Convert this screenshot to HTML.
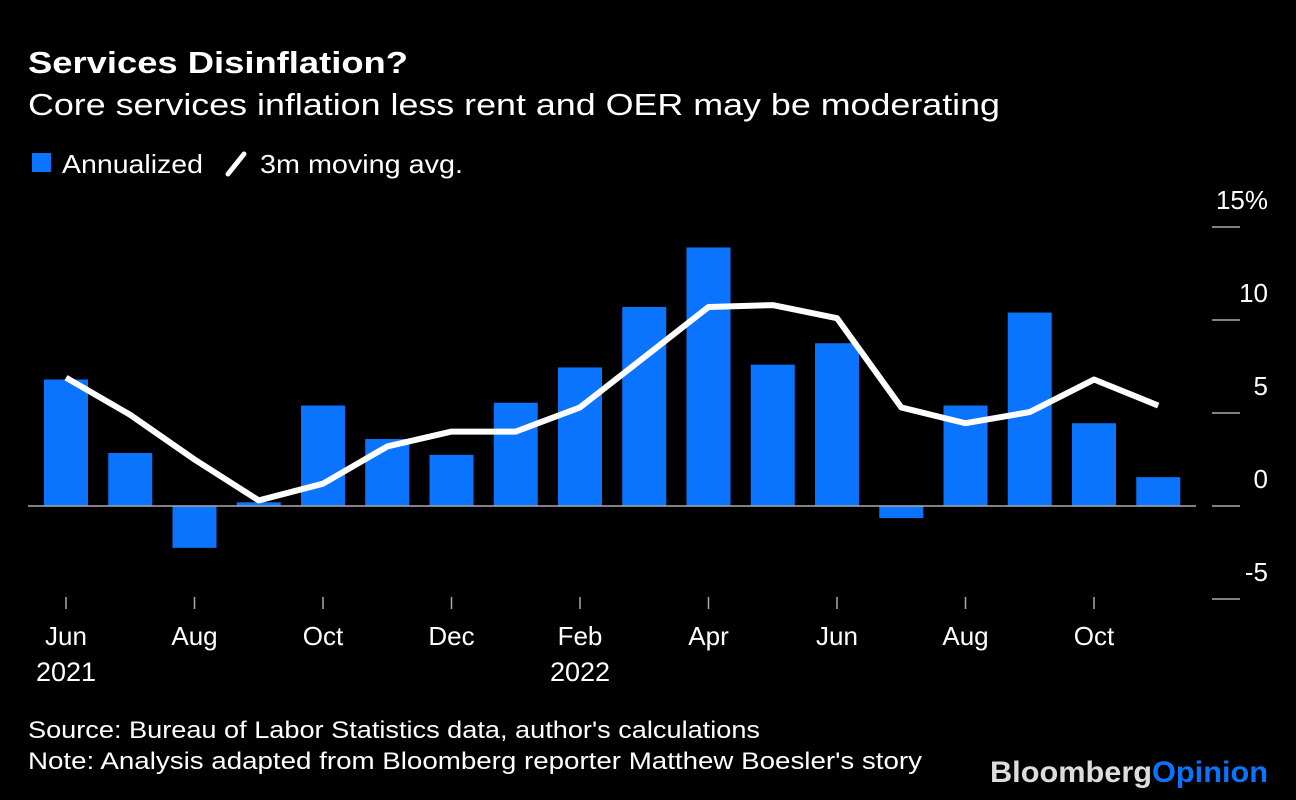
<!DOCTYPE html>
<html><head><meta charset="utf-8"><style>
body{margin:0;background:#000;width:1296px;height:800px;overflow:hidden;font-family:"Liberation Sans",sans-serif;color:#fff}
</style></head><body>
<svg width="1296" height="800" style="position:absolute;left:0;top:0">
<text x="28" y="73" font-size="31" font-weight="bold" fill="#fff" textLength="380" lengthAdjust="spacingAndGlyphs">Services Disinflation?</text>
<text x="28" y="115" font-size="31" fill="#fff" textLength="972" lengthAdjust="spacingAndGlyphs">Core services inflation less rent and OER may be moderating</text>
<g>
<rect x="32" y="153" width="19" height="19" fill="#0a74ff"/>
<text x="62" y="173" font-size="26" fill="#fff" textLength="141" lengthAdjust="spacingAndGlyphs">Annualized</text>
<line x1="228" y1="174" x2="244" y2="154" stroke="#fff" stroke-width="5" stroke-linecap="round"/>
<text x="260" y="173" font-size="26" fill="#fff" textLength="203" lengthAdjust="spacingAndGlyphs">3m moving avg.</text>
</g>
<g id="plot"></g>
<text x="28" y="738" font-size="24" fill="#fff" textLength="732" lengthAdjust="spacingAndGlyphs">Source: Bureau of Labor Statistics data, author's calculations</text>
<text x="28" y="769" font-size="24" fill="#fff" textLength="894" lengthAdjust="spacingAndGlyphs">Note: Analysis adapted from Bloomberg reporter Matthew Boesler's story</text>
<text x="990" y="782" font-size="30" font-weight="bold" textLength="278" lengthAdjust="spacingAndGlyphs"><tspan fill="#ddd">Bloomberg</tspan><tspan fill="#0a74ff">Opinion</tspan></text>
</svg>
<script>
const months=["Jun","Jul","Aug","Sep","Oct","Nov","Dec","Jan","Feb","Mar","Apr","May","Jun","Jul","Aug","Sep","Oct","Nov"];
const annualized=[6.8,2.85,-2.25,0.2,5.4,3.6,2.75,5.55,7.45,10.7,13.9,7.6,8.75,-0.65,5.4,10.4,4.45,1.55];
const movingAvg=[6.9,4.9,2.5,0.3,1.2,3.2,4.0,4.0,5.3,8.0,10.7,10.8,10.1,5.3,4.45,5.05,6.8,5.4];
const yTicks=[15,10,5,0,-5];
const yTickLabels=["15%","10","5","0","-5"];
const xLabelIdx=[0,2,4,6,8,10,12,14,16];
const yearLabels=[[0,"2021"],[8,"2022"]];
const NS="http://www.w3.org/2000/svg";
const g=document.getElementById('plot');
const x=i=>66+i*64.25;
const y=v=>506-v*18.6;
function mk(t,a){const e=document.createElementNS(NS,t);for(const k in a)e.setAttribute(k,a[k]);g.appendChild(e);return e;}
annualized.forEach((v,i)=>{
 const r=mk('rect',{x:x(i)-22,y:Math.min(y(v),y(0)),width:44,height:Math.abs(y(v)-y(0)),fill:'#0a74ff'});
 
 
});
const z=mk('line',{x1:28,x2:1196,y1:y(0),y2:y(0),stroke:'#aaa','stroke-width':1.5});


const p=mk('polyline',{points:movingAvg.map((v,i)=>x(i)+','+y(v)).join(' '),fill:'none',stroke:'#fff','stroke-width':6,'stroke-linejoin':'round'});


yTicks.forEach((v,i)=>{
 const l=mk('line',{x1:1212,x2:1240,y1:y(v),y2:y(v),stroke:'#aaa','stroke-width':1.5});
 
 
 const t=mk('text',{x:1268,y:y(v)-18,'font-size':26,fill:'#fff','text-anchor':'end'});
 t.textContent=yTickLabels[i];
 
 
});
xLabelIdx.forEach(i=>{
 const l=mk('line',{x1:x(i),x2:x(i),y1:597,y2:609,stroke:'#aaa','stroke-width':1.5});
 
 
 const t=mk('text',{x:x(i),y:645,'font-size':26,fill:'#fff','text-anchor':'middle'});
 t.textContent=months[i];
 
 
});
yearLabels.forEach(([i,s])=>{
 const t=mk('text',{x:x(i),y:681,'font-size':27,fill:'#fff','text-anchor':'middle'});
 t.textContent=s;
 
 
});
</script>
</body></html>
